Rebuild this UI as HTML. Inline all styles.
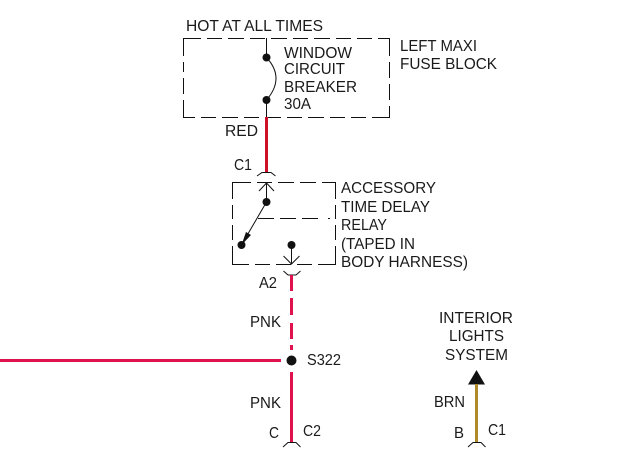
<!DOCTYPE html>
<html>
<head>
<meta charset="utf-8">
<style>
html,body{margin:0;padding:0;background:#fff;width:641px;height:452px;overflow:hidden}
svg{display:block}
text{font-family:"Liberation Sans",Arial,sans-serif;font-size:16px;fill:#1a1a1a}
</style>
</head>
<body>
<svg width="641" height="452" viewBox="0 0 641 452" xmlns="http://www.w3.org/2000/svg">
<g fill="none" stroke="#111" stroke-width="1">
  <path d="M183.500 56V38.500H201M207 38.500H222M228 38.500H244M250 38.500H265M271 38.500H287M293 38.500H308M314 38.500H330M336 38.500H351M357 38.500H372M378 38.500H389.500V56M389.500 62V78M389.500 84V100M389.500 106V117.500H372M366 117.500H351M345 117.500H330M324 117.500H308M302 117.500H287M281 117.500H265M259 117.500H244M238 117.500H222M216 117.500H201M195 117.500H183.500V100M183.500 94V78M183.500 72V62"/>
  <path d="M266.500 38V57.500M266.500 100V117"/>
  <path d="M266.500 57.500Q285.500 78 266.500 100"/>
  <path d="M257 176L262 172.500H271L275.500 176"/>
  <path d="M232.500 199V182.500H251M257 182.500H272M278 182.500H294M300 182.500H316M322 182.500H335.500V199M335.500 205V219M335.500 225V240M335.500 246V264.500H318M312 264.500H297M291 264.500H276M270 264.500H255M249 264.500H232.500V246M232.500 240V225M232.500 219V205"/>
  <path d="M266.500 183V202M259 191L266.500 183L274 191"/>
  <path d="M266.500 202L241.500 245"/>
  <path d="M258 218.500H274M280 218.500H296M302 218.500H318M328 218.500H330"/>
  <path d="M291.500 245V264M283.500 256L291.500 264L299.500 256"/>
  <path d="M283.500 271L288 275H296L300.500 271"/>
  <path d="M283 447L288 442.500H296L300.500 447"/>
  <path d="M468 447L473 442.500H481L485.500 447"/>
</g>
<g fill="#111">
  <circle cx="266.500" cy="57.500" r="4"/>
  <circle cx="266.500" cy="100" r="4"/>
  <circle cx="266.500" cy="202" r="4"/>
  <circle cx="241.500" cy="245" r="4"/>
  <circle cx="291.500" cy="245" r="4"/>
  <circle cx="291.500" cy="360.500" r="5"/>
  <path d="M241.500 245L246 232L251 235Z"/>
  <path d="M476.500 370L485 384.500H468Z"/>
</g>
<path d="M266.500 117V172" stroke="#d01028" stroke-width="3" fill="none"/>
<g stroke="#e0124e" stroke-width="3" fill="none">
  <path d="M291.500 275V291M291.500 298V315M291.500 323V339M291.500 345V350"/>
  <path d="M0 360.500H281"/>
  <path d="M291.500 372V442"/>
</g>
<path d="M476.500 384V442" stroke="#b08a28" stroke-width="3" fill="none"/>
<g lengthAdjust="spacingAndGlyphs">
<text x="186" y="31" textLength="137" lengthAdjust="spacingAndGlyphs">HOT AT ALL TIMES</text>
<text x="284" y="58" textLength="68" lengthAdjust="spacingAndGlyphs">WINDOW</text>
<text x="284" y="74" textLength="61" lengthAdjust="spacingAndGlyphs">CIRCUIT</text>
<text x="284" y="92" textLength="73" lengthAdjust="spacingAndGlyphs">BREAKER</text>
<text x="284" y="109" textLength="27" lengthAdjust="spacingAndGlyphs">30A</text>
<text x="400" y="51" textLength="77" lengthAdjust="spacingAndGlyphs">LEFT MAXI</text>
<text x="400" y="69" textLength="97" lengthAdjust="spacingAndGlyphs">FUSE BLOCK</text>
<text x="225" y="136" textLength="33" lengthAdjust="spacingAndGlyphs">RED</text>
<text x="234" y="170" textLength="18" lengthAdjust="spacingAndGlyphs">C1</text>
<text x="341" y="193" textLength="95" lengthAdjust="spacingAndGlyphs">ACCESSORY</text>
<text x="341" y="212" textLength="89" lengthAdjust="spacingAndGlyphs">TIME DELAY</text>
<text x="341" y="230" textLength="46" lengthAdjust="spacingAndGlyphs">RELAY</text>
<text x="341" y="249" textLength="74" lengthAdjust="spacingAndGlyphs">(TAPED IN</text>
<text x="341" y="267" textLength="127" lengthAdjust="spacingAndGlyphs">BODY HARNESS)</text>
<text x="259" y="288" textLength="18" lengthAdjust="spacingAndGlyphs">A2</text>
<text x="250" y="327" textLength="31" lengthAdjust="spacingAndGlyphs">PNK</text>
<text x="307" y="365" textLength="34" lengthAdjust="spacingAndGlyphs">S322</text>
<text x="250" y="408" textLength="31" lengthAdjust="spacingAndGlyphs">PNK</text>
<text x="269" y="438" textLength="10" lengthAdjust="spacingAndGlyphs">C</text>
<text x="303" y="436" textLength="18" lengthAdjust="spacingAndGlyphs">C2</text>
<text x="439" y="323" textLength="74" lengthAdjust="spacingAndGlyphs">INTERIOR</text>
<text x="449" y="341" textLength="55" lengthAdjust="spacingAndGlyphs">LIGHTS</text>
<text x="445" y="360" textLength="63" lengthAdjust="spacingAndGlyphs">SYSTEM</text>
<text x="434" y="407" textLength="31" lengthAdjust="spacingAndGlyphs">BRN</text>
<text x="454" y="438" textLength="10" lengthAdjust="spacingAndGlyphs">B</text>
<text x="488" y="435" textLength="18" lengthAdjust="spacingAndGlyphs">C1</text>
</g>
</svg>
</body>
</html>
